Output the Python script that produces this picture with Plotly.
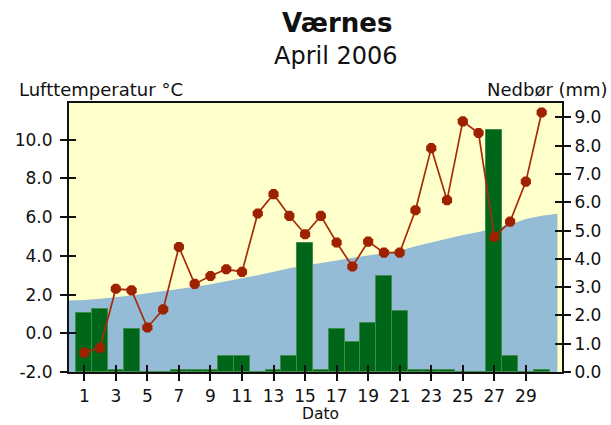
import plotly.graph_objects as go

# ---- data ----
days = list(range(1, 31))
temperature = [-1.0, -0.75, 2.3, 2.22, 0.3, 1.24, 4.46, 2.55, 2.96, 3.31, 3.17, 6.19, 7.19,
               6.07, 5.12, 6.07, 4.69, 3.45, 4.74, 4.17, 4.17, 6.36, 9.57, 6.88, 10.95,
               10.35, 4.98, 5.77, 7.84, 11.41]
precip = [2.08, 2.24, 0.07, 1.52, 0.0, 0.0, 0.07, 0.07, 0.07, 0.58, 0.58, 0.0, 0.07,
          0.58, 4.56, 0.07, 1.52, 1.05, 1.75, 3.41, 2.17, 0.07, 0.07, 0.07, 0.0, 0.0,
          8.56, 0.58, 0.0, 0.07]
normal_days = list(range(0, 32))
normal_temp = [1.70, 1.72, 1.78, 1.85, 1.95, 2.07, 2.17, 2.27, 2.40, 2.53, 2.68, 2.85,
               3.00, 3.18, 3.36, 3.50, 3.62, 3.76, 3.90, 4.02, 4.14, 4.26, 4.50, 4.70,
               4.90, 5.08, 5.24, 5.42, 5.62, 5.90, 6.08, 6.18]
x_ticks = list(range(1, 30, 2))
temp_ticks = [-2, 0, 2, 4, 6, 8, 10]
precip_ticks = [0, 1, 2, 3, 4, 5, 6, 7, 8, 9]

X_RANGE = [0.03, 31.29]
T_RANGE = [-2, 11.9]
P_RANGE = [0, 9.51]

FONT = "DejaVu Sans"
AX = "#111111"
TICK_FONT = dict(family=FONT, size=17, color="#111111")

fig = go.Figure()

# normal temperature band (baseline at axis minimum, then fill)
fig.add_trace(go.Scatter(x=normal_days, y=[T_RANGE[0]] * len(normal_days),
                         mode="lines", line=dict(width=0), hoverinfo="skip",
                         showlegend=False, xaxis="x", yaxis="y"))
fig.add_trace(go.Scatter(x=normal_days, y=normal_temp, mode="lines",
                         line=dict(width=0, color="#94BCD6"), fill="tonexty",
                         fillcolor="#94BCD6", showlegend=False, xaxis="x", yaxis="y"))

# precipitation bars
fig.add_trace(go.Bar(x=days, y=precip, width=1.0,
                     marker=dict(color="#006619", line=dict(color="#3E8E48", width=1)),
                     showlegend=False, xaxis="x", yaxis="y2"))

# temperature line
fig.add_trace(go.Scatter(x=days, y=temperature, mode="lines+markers",
                         line=dict(color="#A82A0A", width=1.7),
                         marker=dict(symbol="octagon", size=11, color="#9E2200",
                                     line=dict(width=0)),
                         showlegend=False, xaxis="x2", yaxis="y3"))

# invisible trace to host right-hand inner ticks
fig.add_trace(go.Scatter(x=[days[0]], y=[precip[0]], mode="markers",
                         marker=dict(opacity=0), hoverinfo="skip",
                         showlegend=False, xaxis="x2", yaxis="y4"))

fig.update_layout(
    width=611, height=425,
    margin=dict(l=69, r=49, t=103, b=53, autoexpand=False),
    paper_bgcolor="white",
    plot_bgcolor="#FFFFCC",
    bargap=0,
    font=dict(family=FONT, color="#111111"),
    xaxis=dict(range=X_RANGE, tickvals=x_ticks, ticktext=[str(d) for d in x_ticks],
               ticks="outside", ticklen=7, tickwidth=2, tickcolor=AX,
               showline=True, linecolor=AX, linewidth=2, mirror=True,
               showgrid=False, zeroline=False, tickfont=TICK_FONT,
               ticklabelstandoff=1, automargin=False),
    xaxis2=dict(range=X_RANGE, overlaying="x", anchor="y3", tickvals=x_ticks,
                ticks="inside", ticklen=7, tickwidth=2, tickcolor=AX,
                showticklabels=False, showline=False, showgrid=False, zeroline=False,
                automargin=False),
    yaxis=dict(range=T_RANGE, tickvals=temp_ticks,
               ticktext=[f"{v:.1f}" for v in temp_ticks],
               ticks="outside", ticklen=7, tickwidth=2, tickcolor=AX,
               showline=True, linecolor=AX, linewidth=2,
               showgrid=False, zeroline=False, tickfont=TICK_FONT,
               ticklabelstandoff=4, automargin=False),
    yaxis2=dict(range=P_RANGE, overlaying="y", side="right", anchor="x",
                tickvals=precip_ticks, ticktext=[f"{v:.1f}" for v in precip_ticks],
                ticks="outside", ticklen=7, tickwidth=2, tickcolor=AX,
                showline=True, linecolor=AX, linewidth=2,
                showgrid=False, zeroline=False, tickfont=TICK_FONT, automargin=False),
    yaxis3=dict(range=T_RANGE, overlaying="y", side="left", anchor="x2",
                tickvals=temp_ticks, ticks="inside", ticklen=7, tickwidth=2,
                tickcolor=AX, showticklabels=False, showline=False,
                showgrid=False, zeroline=False, automargin=False),
    yaxis4=dict(range=P_RANGE, overlaying="y", side="right", anchor="x2",
                tickvals=precip_ticks, ticks="inside", ticklen=7, tickwidth=2,
                tickcolor=AX, showticklabels=False, showline=False,
                showgrid=False, zeroline=False, automargin=False),
    annotations=[
        dict(text="<b>Værnes</b>", x=0.544, y=1.297, xref="paper", yref="paper",
             xanchor="center", yanchor="middle", showarrow=False,
             font=dict(family=FONT, size=26, color="#111111")),
        dict(text="April 2006", x=0.541, y=1.175, xref="paper", yref="paper",
             xanchor="center", yanchor="middle", showarrow=False,
             font=dict(family=FONT, size=24, color="#111111")),
        dict(text="Lufttemperatur °C", x=-0.1055, y=1.052, xref="paper", yref="paper",
             xanchor="left", yanchor="middle", showarrow=False,
             font=dict(family=FONT, size=18, color="#111111")),
        dict(text="Nedbør (mm)", x=1.0974, y=1.052, xref="paper", yref="paper",
             xanchor="right", yanchor="middle", showarrow=False,
             font=dict(family=FONT, size=18, color="#111111")),
        dict(text="Dato", x=0.511, y=-0.157, xref="paper", yref="paper",
             xanchor="center", yanchor="middle", showarrow=False,
             font=dict(family=FONT, size=15.5, color="#111111")),
    ],
)

fig.write_html("out.html", config={"displayModeBar": False},
               post_script="document.body.style.margin='0';document.body.style.padding='0';")
